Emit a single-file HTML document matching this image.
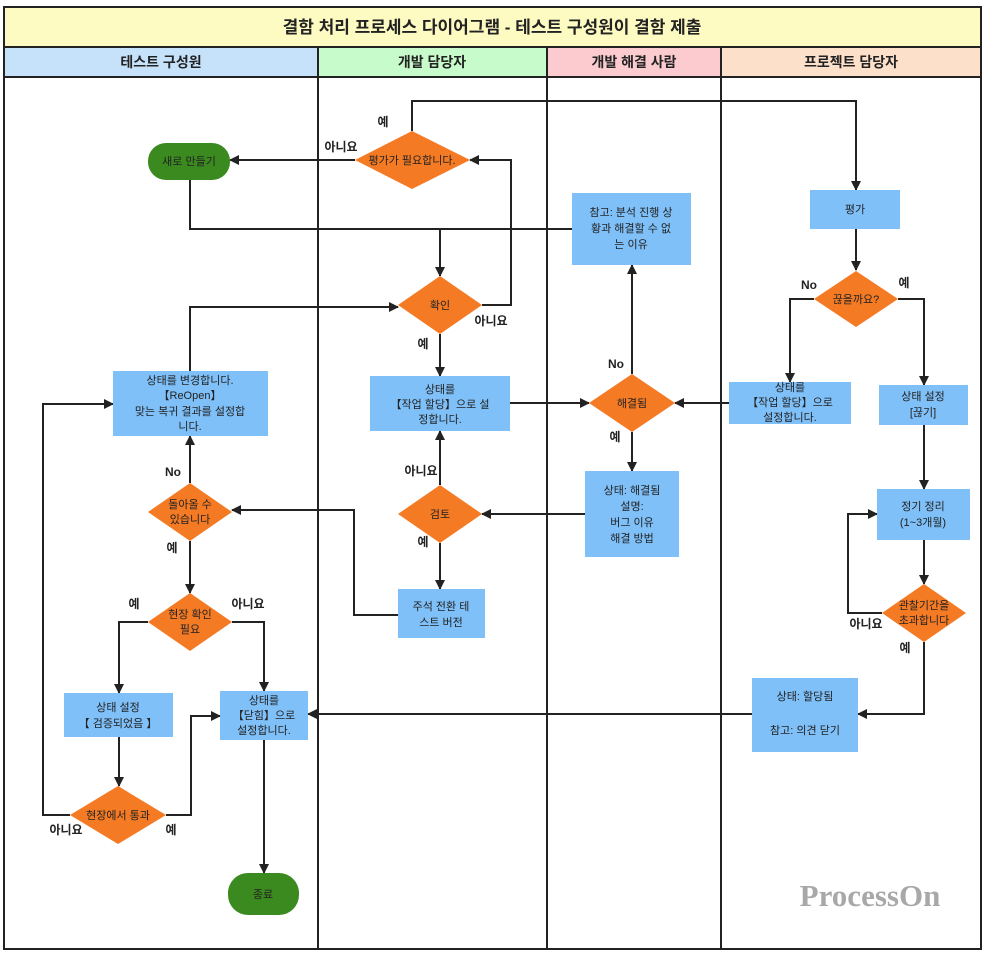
<!DOCTYPE html>
<html><head><meta charset="utf-8"><style>
html,body{margin:0;padding:0;background:#fff}
svg text{font-family:"Liberation Sans","Noto Sans CJK KR",sans-serif}
</style></head><body>
<svg width="985" height="954" viewBox="0 0 985 954" xmlns="http://www.w3.org/2000/svg">
<defs><marker id="a" markerWidth="10" markerHeight="10" refX="9" refY="5" orient="auto" markerUnits="userSpaceOnUse"><path d="M0,0 L10,5 L0,10 z" fill="#222"/></marker></defs>
<rect x="0" y="0" width="985" height="954" fill="#fff"/>
<rect x="4" y="7" width="977" height="40" fill="#fdfbc2" stroke="#222" stroke-width="2"/>
<text x="492" y="33" font-size="17" font-weight="bold" text-anchor="middle" fill="#222">결함 처리 프로세스 다이어그램 - 테스트 구성원이 결함 제출</text>
<rect x="4" y="47" width="314" height="30" fill="#c6e2fa"/>
<rect x="318" y="47" width="229" height="30" fill="#c8fbcb"/>
<rect x="547" y="47" width="174" height="30" fill="#fccbcf"/>
<rect x="721" y="47" width="260" height="30" fill="#fde0ca"/>
<g font-size="14" font-weight="bold" text-anchor="middle" fill="#222">
<text x="161" y="67">테스트 구성원</text><text x="432" y="67">개발 담당자</text><text x="634" y="67">개발 해결 사람</text><text x="851" y="67">프로젝트 담당자</text></g>
<g stroke="#222" stroke-width="2" fill="none">
<rect x="4" y="47" width="977" height="902"/><line x1="4" y1="77" x2="981" y2="77"/>
<line x1="318" y1="47" x2="318" y2="949"/><line x1="547" y1="47" x2="547" y2="949"/><line x1="721" y1="47" x2="721" y2="949"/>
<path d="M190,180 V229 H572"/>
</g>
<g stroke="#222" stroke-width="2" fill="none" marker-end="url(#a)">
<path d="M412,131 V101 H856 V190"/>
<path d="M355,160 H230"/>
<path d="M440,229 V276"/>
<path d="M482,305 H511 V160 H470"/>
<path d="M440,334 V376"/>
<path d="M190,371 V307 H398"/>
<path d="M510,403 H589"/>
<path d="M632,374 V265"/>
<path d="M729,403 H675"/>
<path d="M632,432 V471"/>
<path d="M856,229 V270"/>
<path d="M814,299 H790 V382"/>
<path d="M898,299 H924 V385"/>
<path d="M924,425 V489"/>
<path d="M924,540 V584"/>
<path d="M882,613 H848 V514 H877"/>
<path d="M924,642 V714 H858"/>
<path d="M752,714 H308"/>
<path d="M585,514 H482"/>
<path d="M440,485 V431"/>
<path d="M440,543 V589"/>
<path d="M398,615 H354 V510 H232"/>
<path d="M190,483 V436"/>
<path d="M190,541 V593"/>
<path d="M148,622 H119 V693"/>
<path d="M232,622 H264 V691"/>
<path d="M119,737 V786"/>
<path d="M70,815 H43 V404 H113"/>
<path d="M166,815 H191 V716 H220"/>
<path d="M264,740 V873"/>
</g>
<g fill="#7fc0f8">
<rect x="572" y="193" width="119" height="72"/><rect x="810" y="190" width="90" height="39"/>
<rect x="370" y="376" width="140" height="55"/><rect x="729" y="382" width="122" height="42"/>
<rect x="879" y="385" width="89" height="40"/><rect x="113" y="371" width="155" height="65"/>
<rect x="585" y="471" width="94" height="86"/><rect x="877" y="489" width="93" height="51"/>
<rect x="398" y="589" width="87" height="49"/><rect x="64" y="693" width="109" height="44"/>
<rect x="220" y="691" width="88" height="49"/><rect x="752" y="678" width="106" height="74"/>
</g>
<g fill="#f57a24">
<path d="M355,160 L412,131 L470,160 L412,189 z"/>
<path d="M814,299 L856,271 L898,299 L856,327 z"/>
<path d="M398,305 L440,276 L482,305 L440,334 z"/>
<path d="M589,403 L632,374 L675,403 L632,432 z"/>
<path d="M148,512 L190,483 L232,512 L190,541 z"/>
<path d="M398,514 L440,485 L482,514 L440,543 z"/>
<path d="M882,613 L924,584 L966,613 L924,642 z"/>
<path d="M148,622 L190,593 L232,622 L190,651 z"/>
<path d="M70,815 L118,786 L166,815 L118,844 z"/>
</g>
<rect x="148" y="143" width="82" height="37" rx="18" fill="#3b8a1f"/>
<rect x="228" y="873" width="71" height="42" rx="20" fill="#3b8a1f"/>
<g font-size="11" text-anchor="middle" fill="#222">
<text x="189" y="165">새로 만들기</text><text x="263" y="898">종료</text>
<text x="412" y="164">평가가 필요합니다.</text>
<text x="631" y="216">참고: 분석 진행 상</text><text x="631" y="232">황과 해결할 수 없</text><text x="631" y="248">는 이유</text>
<text x="855" y="213">평가</text>
<text x="856" y="303">끊을까요?</text>
<text x="440" y="309">확인</text>
<text x="440" y="393">상태를</text><text x="440" y="408">【작업 할당】으로 설</text><text x="440" y="423">정합니다.</text>
<text x="632" y="407">해결됨</text>
<text x="790" y="391">상태를</text><text x="790" y="406">【작업 할당】으로</text><text x="790" y="421">설정합니다.</text>
<text x="923" y="400">상태 설정</text><text x="923" y="416">[끊기]</text>
<text x="190" y="384">상태를 변경합니다.</text><text x="190" y="399">【ReOpen】</text><text x="190" y="415">맞는 복귀 결과를 설정합</text><text x="190" y="430">니다.</text>
<text x="190" y="508">돌아올 수</text><text x="190" y="523">있습니다</text>
<text x="440" y="518">검토</text>
<text x="632" y="494">상태: 해결됨</text><text x="632" y="510">설명:</text><text x="632" y="526">버그 이유</text><text x="632" y="542">해결 방법</text>
<text x="923" y="510">정기 정리</text><text x="923" y="526">(1~3개월)</text>
<text x="924" y="609">관찰기간을</text><text x="924" y="624">초과합니다</text>
<text x="190" y="618">현장 확인</text><text x="190" y="633">필요</text>
<text x="441" y="610">주석 전환 테</text><text x="441" y="626">스트 버전</text>
<text x="118" y="711">상태 설정</text><text x="118" y="727">【 검증되었음 】</text>
<text x="264" y="704">상태를</text><text x="264" y="719">【닫힘】으로</text><text x="264" y="734">설정합니다.</text>
<text x="805" y="700">상태: 할당됨</text><text x="805" y="734">참고: 의견 닫기</text>
<text x="118" y="819">현장에서 통과</text>
</g>
<g font-size="12" font-weight="bold" text-anchor="middle" fill="#222">
<text x="383" y="126">예</text><text x="341" y="151">아니요</text><text x="491" y="325">아니요</text><text x="423" y="348">예</text>
<text x="616" y="368">No</text><text x="615" y="441">예</text><text x="809" y="289">No</text><text x="904" y="287">예</text>
<text x="866" y="628">아니요</text><text x="905" y="652">예</text><text x="421" y="475">아니요</text><text x="423" y="546">예</text>
<text x="173" y="476">No</text><text x="172" y="552">예</text><text x="134" y="608">예</text><text x="248" y="608">아니요</text>
<text x="66" y="834">아니요</text><text x="171" y="834">예</text>
</g>
<text x="870" y="906" font-size="31" font-weight="bold" text-anchor="middle" fill="#a8a8a8" style="font-family:'Liberation Serif',serif">ProcessOn</text>
</svg>
</body></html>
